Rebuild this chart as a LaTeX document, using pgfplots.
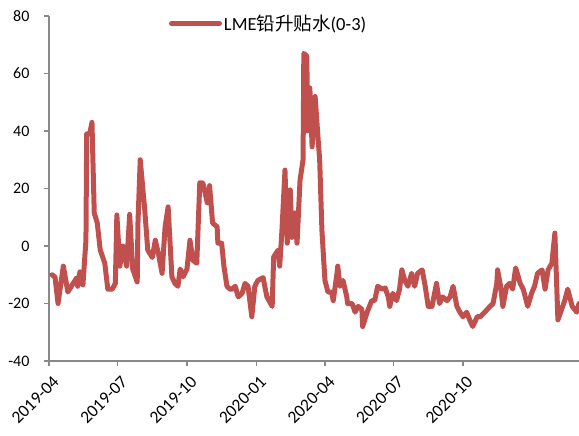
\documentclass[border=0pt]{standalone}
\usepackage{fontspec}
\setmainfont{Carlito}
\newfontfamily\cjk{Noto Sans CJK SC}
\usepackage{pgfplots}
\pgfplotsset{compat=1.18}
\definecolor{lred}{RGB}{192,80,77}
\definecolor{axgray}{RGB}{137,137,137}
\begin{document}
\begin{tikzpicture}
\begin{axis}[
  name=main,
  scale only axis,
  width=530pt, height=345pt,
  xmin=0, xmax=703, ymin=-40, ymax=80,
  axis x line=bottom, axis y line=left,
  axis line style={-, draw=axgray, line width=1.2pt},
  tick style={draw=axgray, line width=1.2pt},
  tick align=outside,
  major tick length=5pt,
  ytick={-40,-20,0,20,40,60,80},
  xtick={0,91,183,275,366,457,549},
  xticklabels={2019-04,2019-07,2019-10,2020-01,2020-04,2020-07,2020-10},
  x tick label style={rotate=45, anchor=north east, xshift=-1pt, yshift=-5pt, font=\fontsize{17.5}{20}\selectfont},
  y tick label style={xshift=-11pt, font=\fontsize{16}{19}\selectfont},
  /pgf/number format/assume math mode=true,
  clip=false,
  legend style={at={(rel axis cs:0.226,0.978)}, anchor=west, draw=none, fill=none,
    inner sep=0pt, font=\fontsize{18.5}{22}\selectfont},
  legend image code/.code={\draw[line width=5pt, line cap=round, lred] (0pt,0pt) -- (48pt,0pt);},
]
\addplot[lred, line width=5pt, line join=round, line cap=round] table {
x y
4 -10
8 -10.8
12 -20
19 -7
25 -16
32 -13
37 -11
38 -14
41 -9
45 -13.5
49 2
50 39
54 39
57 43
60 11.5
64 8
68 -1.4
74 -6
78 -15
84 -15
88 -13
90 10.8
94 -7
98 0
103 -7
107 11
111 -8
117 -12.5
118 8
121 30
127 12.5
131 -1.4
137 -4
141 2
145 -2.5
150 -9.5
154 6.7
158 13.6
163 -10.7
167 -13
171 -14
174 -8
178 -10.7
183 -8
187 2
191 -5
196 -6
200 22
204 22
210 15
213 21
217 8
223 6.7
224 1
229 1
232 -7
236 -14
240 -15
243 -15
247 -14
251 -17.7
256 -16.5
260 -13
264 -14
269 -24.6
273 -14
277 -12
284 -11
289 -17.7
296 -21
298 -3.8
304 -1.4
306 -7
309 5.5
313 26.4
316 1
320 19.5
322 3
326 11.5
329 1
333 23
337 30
338 67
342 66
343 40
346 55
349 34.5
353 52
357 37
359 30
362 5.5
366 -12
370 -16
375 -16
377 -19
382 -9.5
383 -7
386 -14
390 -12
395 -17.7
396 -20
402 -20
406 -23
410 -21
415 -22
416 -28
422 -23
428 -19
432 -19
436 -14
442 -15
446 -14.6
450 -17.7
452 -21
456 -16.5
461 -19
465 -15
468 -8.3
472 -12
476 -14
481 -9.5
485 -14
489 -9.5
495 -8.3
499 -14
503 -21
508 -21
514 -13
518 -20
522 -17.7
528 -19
532 -17.7
536 -14
541 -21
545 -23
549 -24.6
554 -23
558 -25.7
562 -28
568 -24.6
572 -24.6
578 -23
585 -21
589 -20
594 -13
595 -8.3
599 -14
602 -21
607 -14
611 -13
615 -15
619 -7.6
625 -13
629 -15
635 -21
640 -16.5
644 -14
648 -9.5
654 -8.3
658 -15
662 -8.3
667 -6
671 4.5
675 -25.7
680 -22
684 -19
688 -15
694 -21
700 -23
703 -20
};
\addlegendentry{LME{\cjk 铅升贴水}(0-3)}
\end{axis}
\pgfresetboundingbox
\path[use as bounding box] ([xshift=-49pt,yshift=-74pt]main.south west) rectangle ([yshift=16pt]main.north east);
\end{tikzpicture}
\end{document}
